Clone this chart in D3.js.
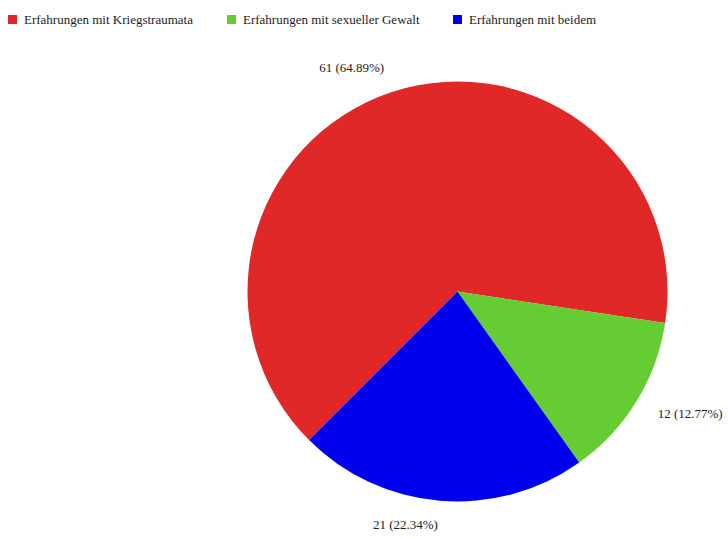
<!DOCTYPE html>
<html>
<head>
<meta charset="utf-8">
<script src="https://cdn.jsdelivr.net/npm/d3@7"></script>
<style>
  html, body { margin: 0; padding: 0; background: #fff; }
  svg { display: block; }
  svg text { font-family: "Liberation Serif", "DejaVu Serif", "Times New Roman", serif; }
</style>
</head>
<body>
<svg id="chart" width="728" height="539"></svg>
<script>
// Categories, counts and slice colours
const categories = ["Erfahrungen mit Kriegstraumata", "Erfahrungen mit sexueller Gewalt", "Erfahrungen mit beidem"];
const counts = [61, 12, 21];
const colors = ["#e02828", "#66cc33", "#0000ee"];

const width = 728, height = 539;
const cx = 457.5, cy = 291.5, radius = 210;
const fontFamily = "'Liberation Serif', 'DejaVu Serif', serif";
const svg = d3.select("#chart");

// Legend across the top
const legendX = d3.scaleOrdinal().domain(categories).range([8, 227, 453]);
const legend = svg.append("g").attr("class", "legend")
  .selectAll("g").data(categories).join("g")
  .attr("transform", d => `translate(${legendX(d)},15)`);
legend.append("rect").attr("width", 9).attr("height", 9)
  .attr("fill", (d, i) => colors[i]);
legend.append("text").attr("x", 16).attr("y", 9)
  .attr("font-family", fontFamily)
  .attr("font-size", 13).attr("fill", "#222").text(d => d);

// Pie
const total = d3.sum(counts);
const pie = d3.pie().sort(null).value(d => d)
  .startAngle(-3 * Math.PI / 4).endAngle(5 * Math.PI / 4);
const arcs = pie(counts);
const arc = d3.arc().innerRadius(0).outerRadius(radius);

const g = svg.append("g").attr("transform", `translate(${cx},${cy})`);
g.selectAll("path").data(arcs).join("path")
  .attr("d", arc)
  .attr("fill", (d, i) => colors[i]);

// Value labels outside each slice
const labelR = 235;
g.selectAll("text.val").data(arcs).join("text")
  .attr("class", "val")
  .each(function (d) {
    const a = (d.startAngle + d.endAngle) / 2;
    const x = Math.sin(a) * labelR, y = -Math.cos(a) * labelR;
    d3.select(this)
      .attr("x", x).attr("y", y).attr("dy", "0.25em")
      .attr("text-anchor", x < 0 ? "end" : "start");
  })
  .attr("font-family", fontFamily)
  .attr("font-size", 13).attr("fill", "#222")
  .text(d => `${d.value} (${(d.value / total * 100).toFixed(2)}%)`);
</script>
</body>
</html>
